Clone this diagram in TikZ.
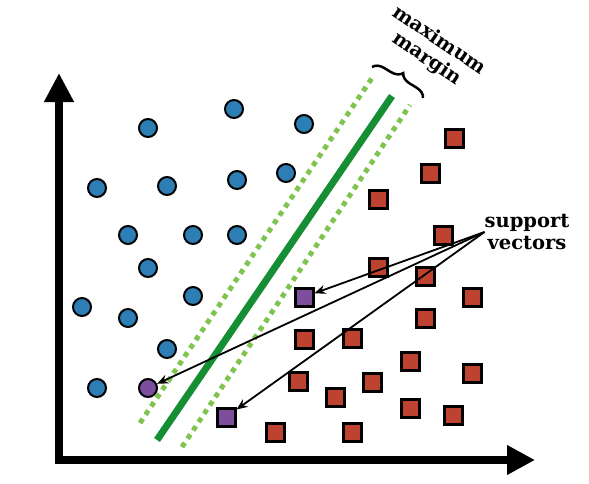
\documentclass[tikz,border=0pt]{standalone}
\usepackage{fontspec}
\setmainfont{DejaVu Serif}
\usetikzlibrary{arrows.meta,decorations.pathreplacing}
\definecolor{dotblue}{RGB}{46,126,182}
\definecolor{boxred}{RGB}{190,66,48}
\definecolor{svpurple}{RGB}{125,78,155}
\definecolor{darkgreen}{RGB}{22,142,52}
\definecolor{lightgreen}{RGB}{128,196,80}

\begin{document}
\begin{tikzpicture}[
            x=1pt, y=-1pt,
            dot/.style={circle, draw, line width=2pt, fill=dotblue,
                       minimum size=18pt, inner sep=0pt},
            sq/.style={rectangle, draw, line width=3pt, fill=boxred,
                       minimum size=18pt, inner sep=0pt},
            axisline/.style={line width=8pt,
                       {Triangle[length=29pt,width=28pt]}-{Triangle[length=28pt,width=28pt]}},
            marginline/.style={line width=5pt, lightgreen, dash pattern=on 5pt off 5pt},
            note/.style={font=\bfseries\fontsize{19.5}{22}\selectfont, align=center, inner sep=0pt},
            pointer/.style={-{Stealth[length=11pt,width=9pt]}, line width=1.8pt}
        ]
            \useasboundingbox (0,0) rectangle (589,483);

            % Axes
            \coordinate (ytop) at (59,73);
            \coordinate (xend) at (535,460);
            \draw[axisline] (ytop) |- (xend);

            % Separating line and margins
            \draw[marginline] (140,423) -- (374,75);
            \draw[marginline] (182,447) -- (410,105);
            \draw[line width=7pt, darkgreen] (157,440) -- (392,96);

            % Brace and its label
            \draw[decorate, decoration={brace, amplitude=11pt}, line width=2.5pt]
                (372,67) -- (423,98);
            \node[note, rotate=-34] (mm) at (433,50) {maximum\\margin};

            % Class one
            \foreach \x/\y [count=\i] in {148/128, 234/109, 304/124, 97/188, 167/186,
                    237/180, 286/173, 128/235, 193/235, 237/235, 148/268, 193/296,
                    82/307, 128/318, 167/349, 97/388}
                \node[dot] (c\i) at (\x,\y) {};
            \node[dot, fill=svpurple] (svc) at (148,388) {};

            % Class two
            \foreach \x/\y [count=\i] in {454/138, 430/173, 378/199, 443/235, 378/267,
                    425/276, 472/297, 425/318, 304/339, 352/338, 410/361, 472/373,
                    298/381, 372/382, 335/397, 410/408, 453/415, 352/432, 275/432}
                \node[sq] (s\i) at (\x,\y) {};
            \node[sq, fill=svpurple] (svs1) at (304,297) {};
            \node[sq, fill=svpurple] (svs2) at (226,417) {};

            % Support vectors
            \node[note] (sv) at (527,232) {support\\vectors};
            \draw[pointer] (sv.west) -- (svs1);
            \draw[pointer] (sv.west) -- (svc);
            \draw[pointer] (sv.west) -- (svs2);
        \end{tikzpicture}
\end{document}
